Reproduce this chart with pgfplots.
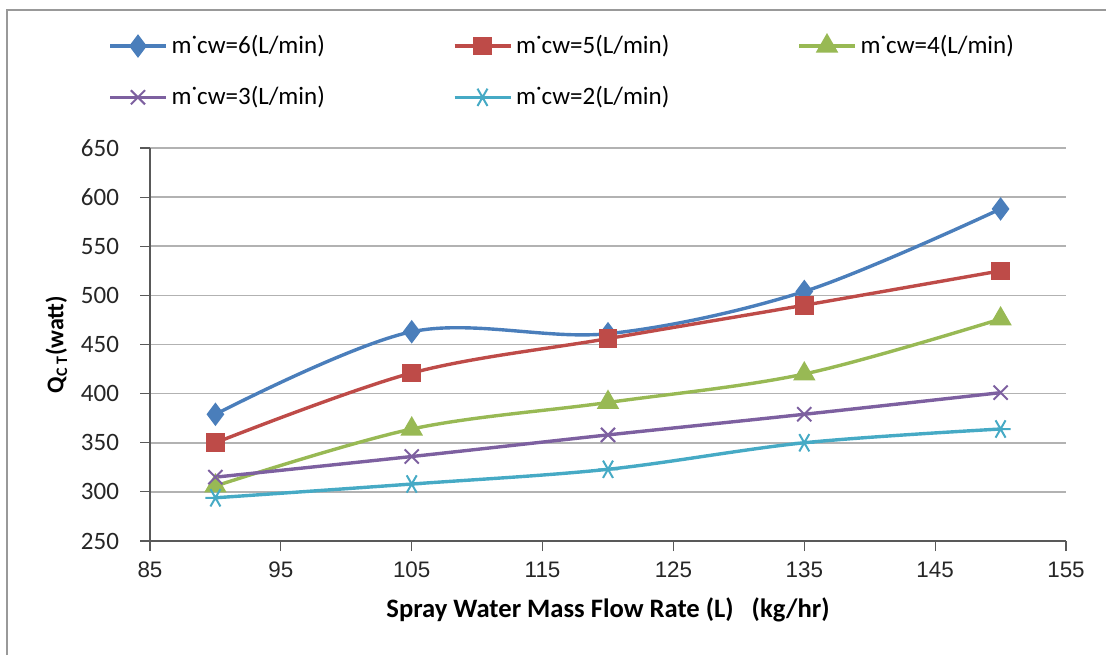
\documentclass[border=0pt]{standalone}
\usepackage{fontspec}
\setmainfont{Carlito}
\newfontfamily\arialfont{Liberation Sans}
\usepackage{pgfplots}
\pgfplotsset{compat=1.18}
\definecolor{cB}{HTML}{4A7EBB}
\definecolor{cR}{HTML}{BE4B48}
\definecolor{cG}{HTML}{98B954}
\definecolor{cP}{HTML}{7D60A0}
\definecolor{cC}{HTML}{46AAC5}
\begin{document}
\begin{tikzpicture}[x=0.5pt,y=0.5pt]
\path[use as bounding box] (0,0) rectangle (1106,655);
\draw[gray!80,line width=1.2pt] (7,0) -- (7,645) -- (1106,645);
\begin{axis}[
  at={(150*0.5pt,114*0.5pt)}, anchor=south west,
  scale only axis, width=458pt, height=196.5pt,
  xmin=85, xmax=155, ymin=250, ymax=650,
  xtick={85,95,...,155}, ytick={250,300,...,650},
  axis x line*=bottom, axis y line*=left,
  axis line style={gray!70!black, line width=0.6pt, -},
  tick align=outside, major tick length=5pt,
  tick style={gray!70!black, line width=0.6pt},
  ymajorgrids, grid style={gray!60, line width=0.8pt},
  /pgf/number format/assume math mode=true,
  /pgf/number format/1000 sep={},
  xticklabel style={font=\arialfont\fontsize{11.2}{13}\selectfont, text=black!85, yshift=-2pt},
  yticklabel style={font=\fontsize{12.5}{14}\selectfont, text=black!85, xshift=-7pt},
  xlabel={\bfseries Spray Water Mass Flow Rate (L)\ \ \ (kg/hr)},
  xlabel style={font=\fontsize{13.3}{15}\selectfont, yshift=-3pt},
  ylabel={\bfseries Q\textsubscript{C T}(watt)},
  ylabel style={font=\fontsize{12}{14}\selectfont, yshift=0pt},
  every axis plot/.append style={line width=1.7pt, smooth, tension=0.55},
  legend columns=3,
  legend style={at={(-48*0.5pt,514*0.5pt)}, anchor=north west, draw=none, fill=none,
    font=\fontsize{12.5}{14}\selectfont, row sep=11pt,
    /tikz/every odd column/.append style={column sep=0pt},
    /tikz/every even column/.append style={column sep=62pt}},
  legend cell align=left,
  legend image code/.code={\draw[mark repeat=2,mark phase=2,#1] plot coordinates {(0cm,0cm)(0.49cm,0cm)(0.98cm,0cm)};},
]
\addplot[cB, mark=diamond*, mark size=4.5pt, mark options={solid, fill=cB}] coordinates {(90,379)(105,463)(120,461)(135,504)(150,588)};
\addlegendentry{m˙cw=6(L/min)}
\addplot[cR, mark=square*, mark size=3.8pt, mark options={fill=cR}] coordinates {(90,350)(105,421)(120,456)(135,490)(150,525)};
\addlegendentry{m˙cw=5(L/min)}
\addplot[cG, mark=triangle*, mark size=4.8pt, mark options={fill=cG}] coordinates {(90,306)(105,364)(120,391)(135,420)(150,476)};
\addlegendentry{m˙cw=4(L/min)}
\addplot[cP, mark=x, mark size=5pt, mark options={line width=1pt}] coordinates {(90,315)(105,336)(120,358)(135,379)(150,401)};
\addlegendentry{m˙cw=3(L/min)}
\addplot[cC, mark=asterisk, mark size=5pt, mark options={line width=1pt, rotate=90}] coordinates {(90,294)(105,308)(120,323)(135,350)(150,364)};
\addlegendentry{m˙cw=2(L/min)}
\end{axis}
\end{tikzpicture}
\end{document}
